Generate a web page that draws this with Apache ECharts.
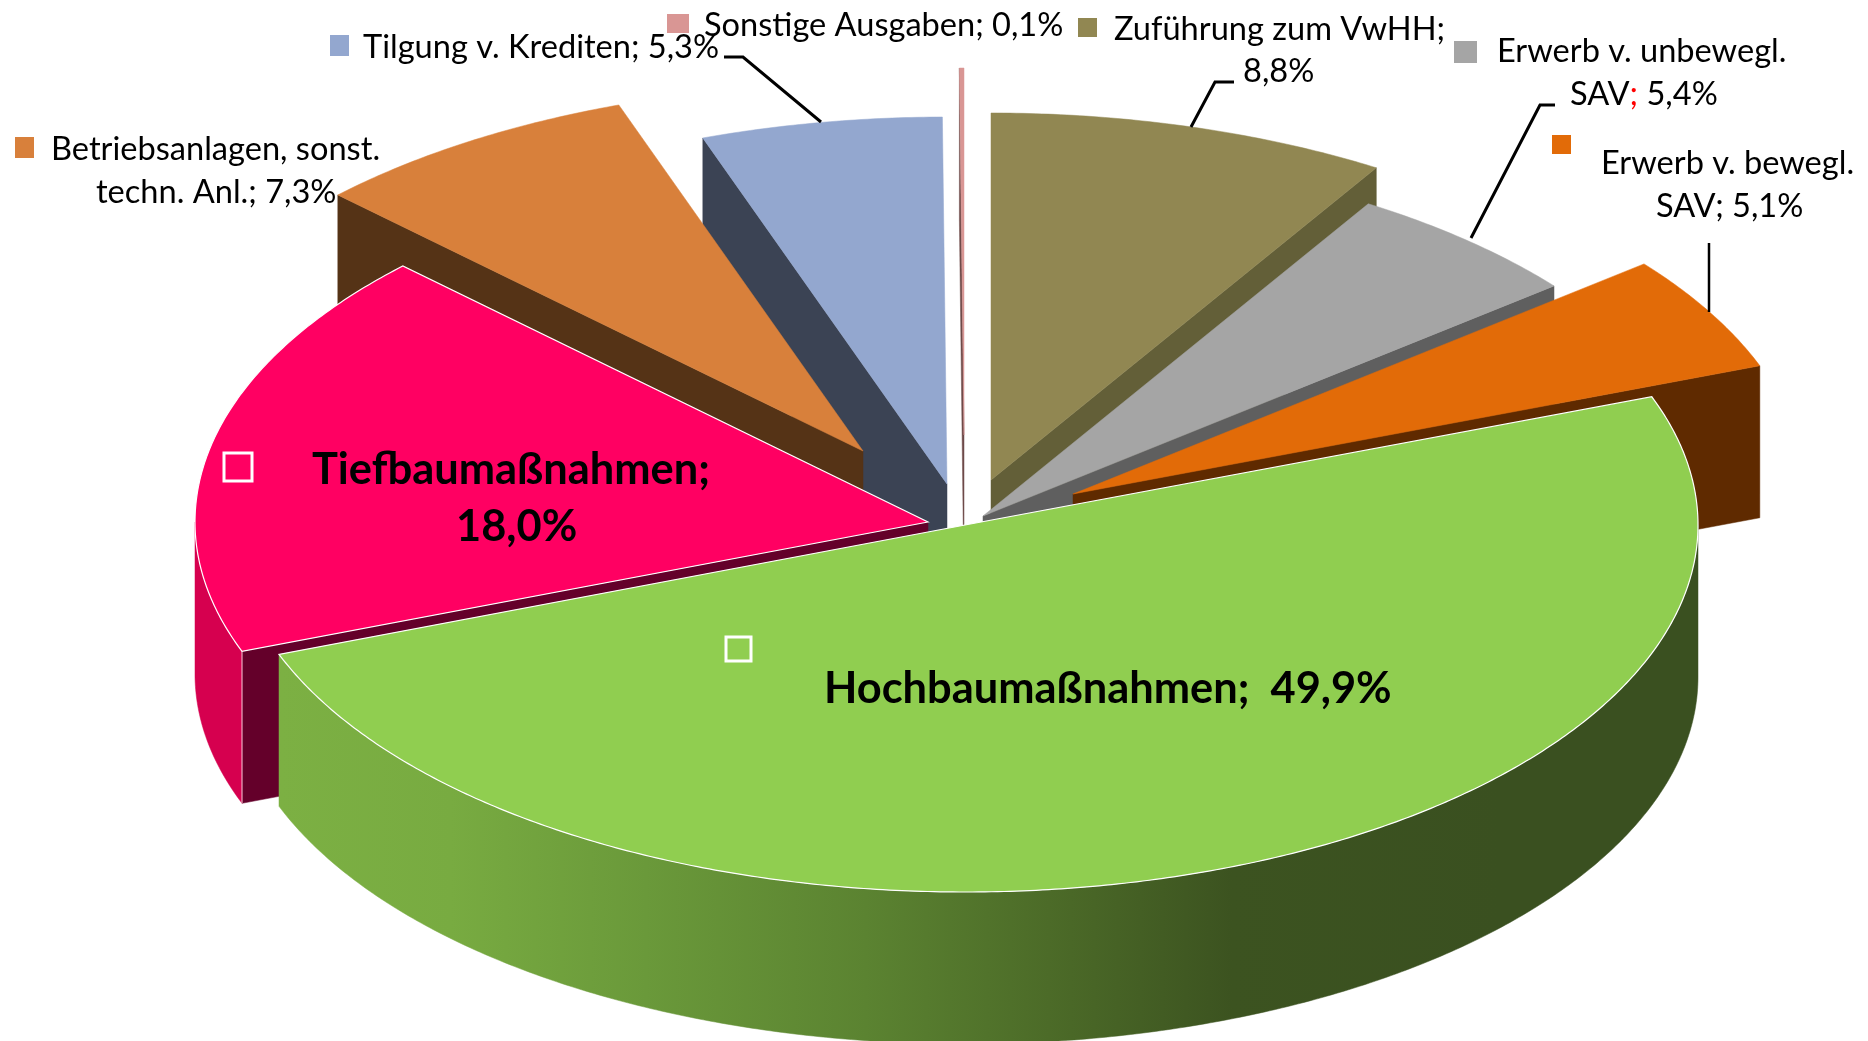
<!DOCTYPE html>
<html>
<head>
<meta charset="utf-8">
<style>html,body{margin:0;padding:0;background:#fff;overflow:hidden}#c{width:1868px;height:1041px}</style>
<script src="https://cdn.jsdelivr.net/npm/echarts@6/dist/echarts.min.js"></script>
</head>
<body>
<div id="c"></div>
<script>
// --- data ---
const categories = ['Zuführung zum VwHH','Erwerb v. unbewegl. SAV','Erwerb v. bewegl. SAV','Hochbaumaßnahmen','Tiefbaumaßnahmen','Betriebsanlagen, sonst. techn. Anl.','Tilgung v. Krediten','Sonstige Ausgaben'];
const shares = [8.8, 5.4, 5.1, 49.9, 18.0, 7.3, 5.3, 0.1];

// --- colours ---
const topColors  = ['#918752','#a5a5a5','#e26b08','#90ce50','#ff0062','#d8803b','#93a7cf','#d99694'];
const faceColors = ['#635f38','#5f5f5f','#5f2a00','#3b5120','#64002a','#553316','#3b4354','#6e4a49'];
const wallColors = ['#635f38','#5f5f5f','#5f2a00',null,'#d6004f','#553316','#3b4354','#6e4a49'];
const outlined   = [false,false,false,true,true,false,false,false];

// --- layout ---
const RX = 733, RY = 367, DEPTH = 152;
const centers = [[991,480],[983,516],[1073,494],[965,525],[928,522],[863,451],[947,484],[964,435]];
const paintOrder = [7,6,5,0,1,2,4,3];

const FONT = 'Lato, "Open Sans", sans-serif';
const SMALL = 32.6, BIG = 43.4;
const markers = [
  {x:1078,y:18,w:19,h:19,c:topColors[0]},
  {x:1454,y:41,w:23,h:22,c:topColors[1]},
  {x:1552,y:135,w:19,h:19,c:topColors[2]},
  {x:726,y:637,w:25,h:24,c:null},
  {x:224,y:453,w:28,h:28,c:null},
  {x:15,y:137,w:19,h:21,c:topColors[5]},
  {x:330,y:35,w:19,h:21,c:topColors[6]},
  {x:667,y:14,w:22,h:19,c:topColors[7]}
];
const labels = [
  {t:'Sonstige Ausgaben; 0,1%',x:704,y:25,s:SMALL},
  {t:'Tilgung v. Krediten; 5,3%',x:363,y:47,s:SMALL},
  {t:'Betriebsanlagen, sonst.',x:51,y:149,s:SMALL},
  {t:'techn. Anl.; 7,3%',x:96,y:192,s:SMALL},
  {t:'Zuführung zum VwHH;',x:1114,y:29,s:SMALL},
  {t:'8,8%',x:1243,y:71,s:SMALL},
  {t:'Erwerb v. unbewegl.',x:1497,y:51,s:SMALL},
  {t:'{n|SAV}{r|;}{n| 5,4%}',x:1570,y:94,s:SMALL},
  {t:'Erwerb v. bewegl.',x:1601,y:163,s:SMALL},
  {t:'SAV; 5,1%',x:1656,y:206,s:SMALL},
  {t:'Tiefbaumaßnahmen;',x:312,y:470,s:BIG,b:true},
  {t:'18,0%',x:456,y:527,s:BIG,b:true},
  {t:'Hochbaumaßnahmen;  49,9%',x:824,y:689,s:BIG,b:true}
];
const leaders = [
  {p:[[724,57],[743,57],[821,122]],w:3},
  {p:[[1234,82],[1215,82],[1191,127]],w:3},
  {p:[[1555,105],[1540,105],[1471,238]],w:3},
  {p:[[1709,243],[1709,312]],w:2.5}
];

const total = shares.reduce((a,b)=>a+b,0);
const starts = [];
shares.reduce((acc,v,i)=>{starts[i]=acc;return acc+v;},0);
const rad = d => d*Math.PI/180;

function pt(c,deg,dy){return [c[0]+RX*Math.sin(rad(deg)), c[1]-RY*Math.cos(rad(deg))+(dy||0)];}
function arc(c,a,b,dy){
  const out=[],n=Math.max(2,Math.ceil(Math.abs(b-a)/0.5));
  for(let k=0;k<=n;k++) out.push(pt(c,a+(b-a)*k/n,dy));
  return out;
}
const greenWall = new echarts.graphic.LinearGradient(280,0,1500,0,[
  {offset:0,color:'#7cb043'},
  {offset:0.14,color:'#78ab41'},
  {offset:0.30,color:'#6a993a'},
  {offset:0.48,color:'#5b8331'},
  {offset:0.63,color:'#4c6b28'},
  {offset:0.78,color:'#3c5320'},
  {offset:1,color:'#3a5020'}
],true);

function slice(i){
  const c=centers[i], a=starts[i]/total*360, b=(starts[i]+shares[i])/total*360;
  const kids=[];
  const face=(deg,visible)=>{
    if(!visible) return;
    const p=pt(c,deg);
    kids.push({type:'polygon',shape:{points:[c,p,[p[0],p[1]+DEPTH],[c[0],c[1]+DEPTH]]},
      style:{fill:faceColors[i],stroke:faceColors[i],lineWidth:0.5}});
  };
  face(a,Math.cos(rad(a-90))<0);
  face(b,Math.cos(rad(b+90))<0);
  const wa=Math.max(a,90), wb=Math.min(b,270);
  if(wb>wa){
    const pts=arc(c,wa,wb).concat(arc(c,wb,wa,DEPTH));
    kids.push({type:'polygon',shape:{points:pts},
      style:{fill:wallColors[i]||greenWall,stroke:wallColors[i]||greenWall,lineWidth:0.5}});
    if(outlined[i]&&wallColors[i]){
      const p=pt(c,wa);
      kids.push({type:'line',shape:{x1:p[0],y1:p[1],x2:p[0],y2:p[1]+DEPTH},style:{stroke:'#fff',lineWidth:1,opacity:0.8}});
    }
  }
  kids.push({type:'polygon',shape:{points:[c].concat(arc(c,a,b))},
    style:{fill:topColors[i],stroke:outlined[i]?'#ffffff':topColors[i],lineWidth:outlined[i]?1.2:0.5}});
  return kids;
}

function decorations(){
  const kids=[];
  leaders.forEach(l=>kids.push({type:'polyline',shape:{points:l.p},style:{stroke:'#000',lineWidth:l.w,fill:null}}));
  markers.forEach(m=>kids.push({type:'rect',shape:{x:m.x,y:m.y,width:m.w,height:m.h},
    style:m.c?{fill:m.c}:{fill:null,stroke:'#fff',lineWidth:3}}));
  labels.forEach(l=>{
    const base={fontFamily:FONT,fontSize:l.s,fontWeight:l.b?'bold':'normal',fill:'#000'};
    kids.push({type:'text',x:l.x,y:l.y,style:Object.assign({},base,{text:l.t,align:'left',verticalAlign:'middle',
      rich:{n:{fontFamily:FONT,fontSize:l.s,fill:'#000'},r:{fontFamily:FONT,fontSize:l.s,fill:'#ff0000'}}})});
  });
  return kids;
}

const chart = echarts.init(document.getElementById('c'),null,{renderer:'canvas'});
const sliceData = paintOrder.map(i=>[i,shares[i]]);
chart.setOption({
  animation:false,
  backgroundColor:'#ffffff',
  series:[
    {type:'custom',coordinateSystem:'none',silent:true,data:sliceData,z:1,
     renderItem:(p,api)=>({type:'group',children:slice(api.value(0))})},
    {type:'custom',coordinateSystem:'none',silent:true,data:[[0]],z:2,
     renderItem:()=>({type:'group',children:decorations()})}
  ]
});
</script>
</body>
</html>
